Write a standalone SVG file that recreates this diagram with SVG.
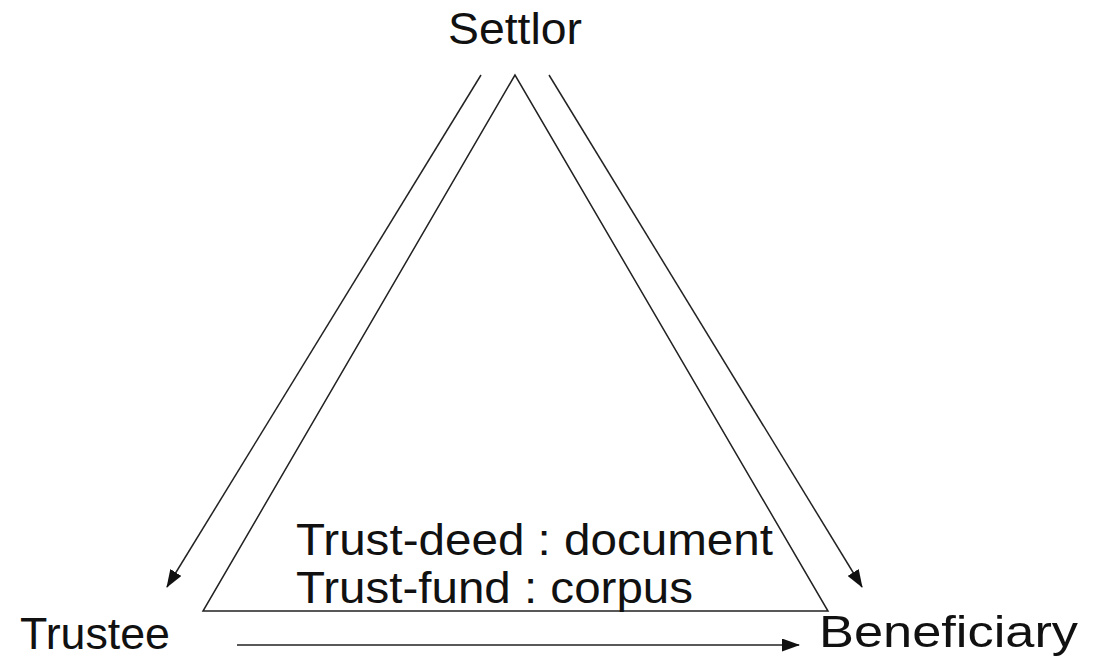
<svg xmlns="http://www.w3.org/2000/svg" width="1093" height="659" viewBox="0 0 1093 659">
<style>
.t{font-family:"Liberation Sans",Arial,sans-serif;font-size:45px;fill:#111}
.ln{stroke:#222;stroke-width:1.5;fill:none}
</style>
<defs>
<marker id="ah" viewBox="0 0 18 13" refX="17" refY="6.5" markerWidth="18" markerHeight="13" markerUnits="userSpaceOnUse" orient="auto">
<path d="M0,0 L18,6.5 L0,13 z" fill="#111"/>
</marker>
</defs>
<rect width="1093" height="659" fill="#fff"/>
<g id="triangle">
<polygon class="ln" points="515,75 203,611 828,611"/>
</g>
<g id="settlor"><text class="t" x="448" y="44" textLength="134" lengthAdjust="spacingAndGlyphs">Settlor</text></g>
<g id="trustee"><text class="t" x="20" y="649" textLength="150" lengthAdjust="spacingAndGlyphs">Trustee</text></g>
<g id="beneficiary"><text class="t" x="819" y="647" textLength="259" lengthAdjust="spacingAndGlyphs">Beneficiary</text></g>
<g id="labels">
<text class="t" x="296" y="555" textLength="477" lengthAdjust="spacingAndGlyphs">Trust-deed : document</text>
<text class="t" x="296" y="603" textLength="397" lengthAdjust="spacingAndGlyphs">Trust-fund : corpus</text>
</g>
<g id="connectors">
<line class="ln" x1="481" y1="75" x2="167" y2="587" marker-end="url(#ah)"/>
<line class="ln" x1="549" y1="75" x2="862" y2="587" marker-end="url(#ah)"/>
<line class="ln" x1="237" y1="645" x2="799" y2="645" marker-end="url(#ah)"/>
</g>
</svg>
